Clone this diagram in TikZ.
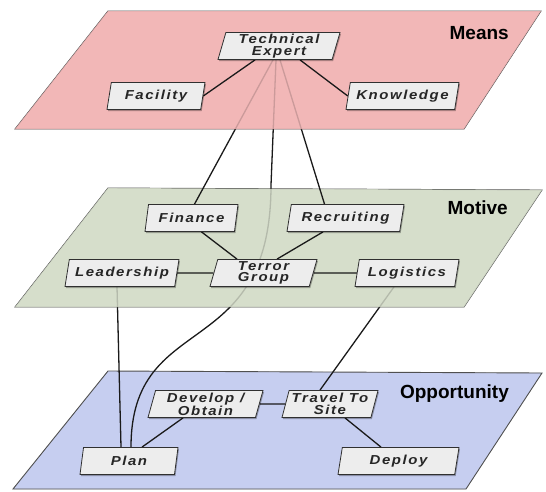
\documentclass[tikz,border=0pt]{standalone}
\usepackage{fontspec}
\setmainfont{Liberation Sans}
\newfontfamily\boxfont{Liberation Sans}[FakeStretch=1.15, LetterSpace=12]
\usetikzlibrary{shapes.geometric,shadows,calc}
\definecolor{meansc}{HTML}{F2B7B7}
\definecolor{motivec}{HTML}{D6DECB}
\definecolor{oppc}{HTML}{C6CEF0}
\definecolor{boxc}{HTML}{EDEDED}
\definecolor{edgec}{HTML}{1A1A1A}
\definecolor{framec}{HTML}{505050}
\pgfdeclarelayer{planes}
\pgfdeclarelayer{low}
\pgfdeclarelayer{veilA}
\pgfdeclarelayer{mid}
\pgfdeclarelayer{veilB}
\pgfdeclarelayer{edges}
\pgfsetlayers{planes,low,veilA,mid,veilB,edges,main}
\tikzset{
  plane/.style={draw=framec, line width=0.9pt},
  planeshadow/.style={fill=black, opacity=0.10},
  veil/.style={opacity=0.82},
  box/.style={trapezium, trapezium left angle=73, trapezium right angle=107,
    trapezium stretches body, draw=framec!60!black, line width=0.8pt, fill=boxc,
    minimum height=27pt, inner xsep=1pt, inner ysep=1pt, text=black!85,
    font=\boxfont\bfseries\itshape\fontsize{13}{11.7}\selectfont, align=center,
    drop shadow={shadow xshift=1pt, shadow yshift=-1.6pt, opacity=0.3, fill=black}},
  conn/.style={draw=edgec, line width=1.3pt},
  layerlabel/.style={font=\bfseries\fontsize{19}{19}\selectfont, anchor=base east, inner sep=0pt}
}
\begin{document}
\begin{tikzpicture}[x=1pt,y=-1pt]
\useasboundingbox (0,0) rectangle (546,491);
\coordinate (M1) at (108,11);  \coordinate (M2) at (541,11);  \coordinate (M3) at (464,129); \coordinate (M4) at (15,129);
\coordinate (V1) at (108,188); \coordinate (V2) at (542,190); \coordinate (V3) at (464,307); \coordinate (V4) at (15,307);
\coordinate (O1) at (108,371); \coordinate (O2) at (542,373); \coordinate (O3) at (466,489); \coordinate (O4) at (13,489);
\coordinate (bend) at (271,185);

\begin{pgfonlayer}{planes}
  \fill[white] (0,0) rectangle (546,491);
  \foreach \dx/\dy in {1/1.5, 2/3, 3/4.5, 4/6} {
    \fill[planeshadow, shift={(\dx,\dy)}] (O1)--(O2)--(O3)--(O4)--cycle;
    \fill[planeshadow, shift={(\dx,\dy)}] (V1)--(V2)--(V3)--(V4)--cycle;
    \fill[planeshadow, shift={(\dx,\dy)}] (M1)--(M2)--(M3)--(M4)--cycle;
  }
  \filldraw[plane, fill=oppc] (O1)--(O2)--(O3)--(O4)--cycle;
  \filldraw[plane, fill=motivec] (V1)--(V2)--(V3)--(V4)--cycle;
  \filldraw[plane, fill=meansc] (M1)--(M2)--(M3)--(M4)--cycle;
\end{pgfonlayer}

% nodes
\node[box, minimum width=122pt] (te) at (279,46) {Technical\\Expert};
\node[box, minimum width=98pt] (fac) at (156,96) {Facility};
\node[box, minimum width=113pt] (kno) at (402.5,96) {Knowledge};
\node[box, minimum width=93pt] (fin) at (191.5,218) {Finance};
\node[box, minimum width=117pt] (rec) at (345.5,218) {Recruiting};
\node[box, minimum width=114pt] (lea) at (122,273) {Leadership};
\node[box, minimum width=107pt] (ter) at (263.5,273) {Terror\\Group};
\node[box, minimum width=104pt] (logi) at (407,273) {Logistics};
\node[box, minimum width=115pt] (dev) at (205.5,404) {Develop /\\Obtain};
\node[box, minimum width=96pt] (tra) at (330,404) {Travel To\\Site};
\node[box, minimum width=98pt] (pla) at (129,461) {Plan};
\node[box, minimum width=121pt] (dep) at (398.5,461) {Deploy};

\node[layerlabel] (lmeans) at (509,39) {Means};
\node[layerlabel] (lmotive) at (508,214) {Motive};
\node[layerlabel] (lopp) at (509,398) {Opportunity};

\begin{pgfonlayer}{low}
  \draw[conn] ([xshift=-5pt]lea.south) -- ([xshift=-8pt]pla.north);
  \draw[conn] ([xshift=-13pt]logi.south) -- ([xshift=-10pt]tra.north);
  \draw[conn] ([xshift=-3pt]te.south) -- (bend) .. controls (271,365) and (131,308) .. ([xshift=2pt]pla.north);
\end{pgfonlayer}
\begin{pgfonlayer}{veilA}
  \fill[motivec, veil] (V1)--(V2)--(V3)--(V4)--cycle;
\end{pgfonlayer}
\begin{pgfonlayer}{mid}
  \draw[conn] ([xshift=-6pt]te.south) -- ([xshift=3pt]fin.north);
  \draw[conn] ([xshift=1pt]te.south) -- ([xshift=-21pt]rec.north);
\end{pgfonlayer}
\begin{pgfonlayer}{veilB}
  \fill[meansc, veil] (M1)--(M2)--(M3)--(M4)--cycle;
\end{pgfonlayer}
\begin{pgfonlayer}{edges}
  \draw[conn] ([xshift=-24pt]te.south) -- (fac.east);
  \draw[conn] ([xshift=21pt]te.south) -- (kno.west);
  \draw[conn] ([xshift=10pt]fin.south) -- ([xshift=-26.5pt]ter.north);
  \draw[conn] ([xshift=-22.5pt]rec.south) -- ([xshift=13.5pt]ter.north);
  \draw[conn] (lea.east) -- (ter.west);
  \draw[conn] (ter.east) -- (logi.west);
  \draw[conn] (dev.east) -- (tra.west);
  \draw[conn] ([xshift=-22.5pt]dev.south) -- ([xshift=13pt]pla.north);
  \draw[conn] ([xshift=15pt]tra.south) -- ([xshift=-17.5pt]dep.north);
\end{pgfonlayer}
\end{tikzpicture}
\end{document}
